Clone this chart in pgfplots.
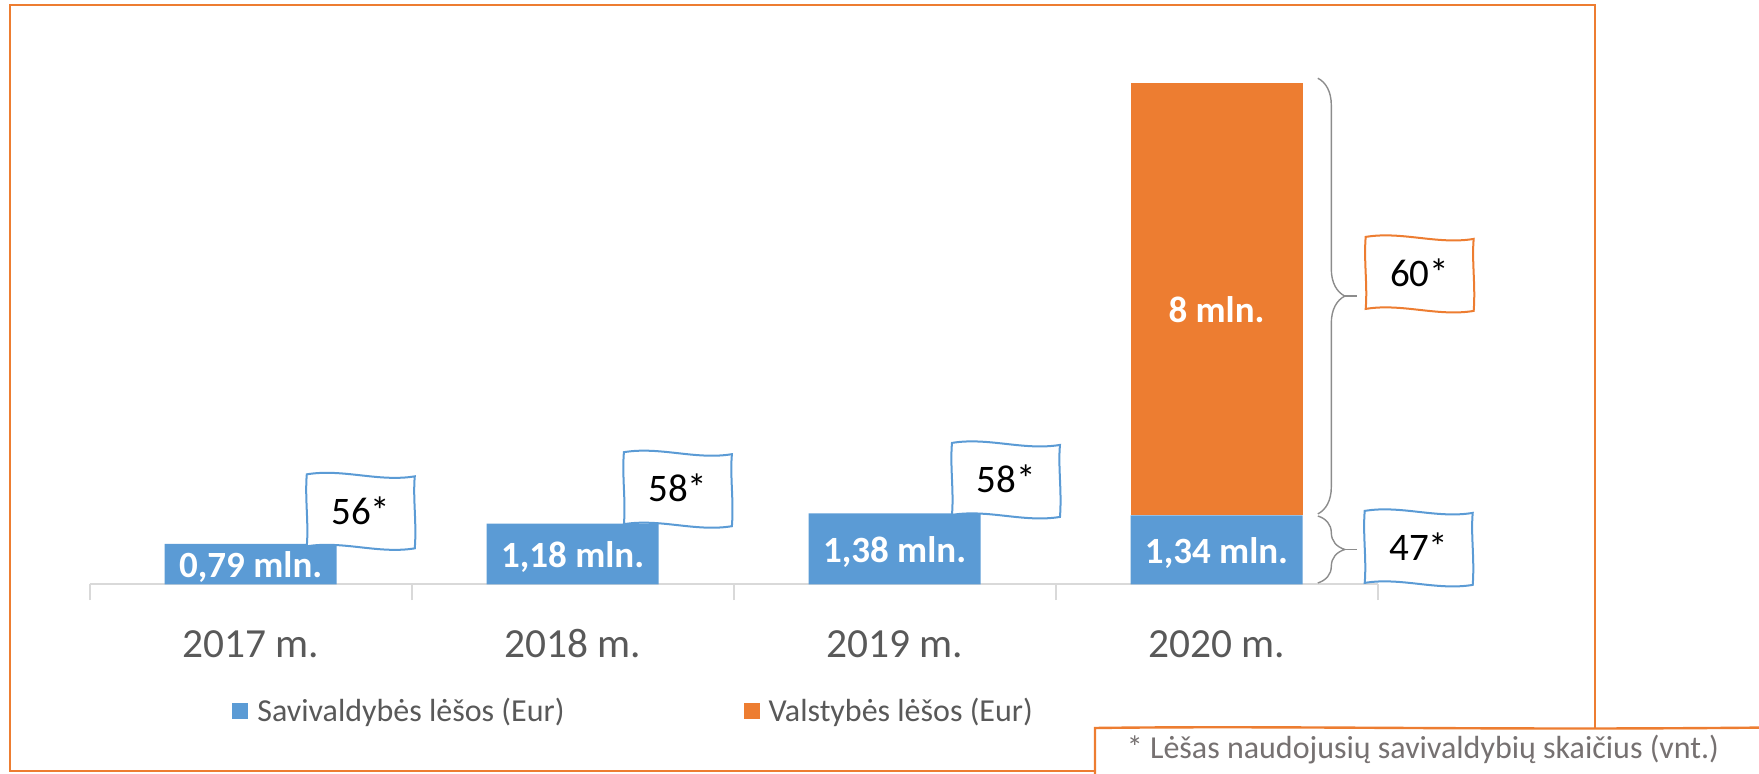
\documentclass[border=0pt]{standalone}
\usepackage{pgfplots}
\usepackage{pgfplotstable}
\pgfplotsset{compat=1.18}
\usepackage{fontspec}
\setmainfont{Carlito}
\usetikzlibrary{decorations.pathreplacing}
\definecolor{cblue}{HTML}{5B9BD5}
\definecolor{corange}{HTML}{ED7D31}
\definecolor{axgray}{HTML}{D9D9D9}
\definecolor{txtgray}{HTML}{595959}
\definecolor{brgray}{HTML}{8C8C8C}
\definecolor{fngray}{HTML}{767171}

\pgfplotstableread{
x y
0 0.79
1 1.18
2 1.38
3 1.34
}\bluedata
\pgfplotstableread{
x y
0 0
1 0
2 0
3 8.4
}\orangedata

\newcommand{\flag}[3]{%
  \draw[#2, line width=1pt, fill=white, shift={(#1)}]
      (-27pt,18pt) .. controls (-9pt,21pt) and (9pt,14pt) .. (27pt,17pt)
      .. controls (26pt,6pt) and (28pt,-6pt) .. (27pt,-19pt)
      .. controls (9pt,-22pt) and (-9pt,-15pt) .. (-27pt,-18pt)
      .. controls (-26pt,-6pt) and (-28pt,6pt) .. cycle;
  \node[font=\fontsize{19.5}{22}\selectfont, text=black] at (#1) {#3};}
\newcommand{\barlab}[2]{%
  \node[font=\bfseries\fontsize{18.5}{20}\selectfont, text=white, anchor=base, yshift=-6.6pt] at (#1) {#2};}

\begin{document}
\begin{tikzpicture}
\useasboundingbox (-44.85pt,-94.75pt) rectangle (834.65pt,292.25pt);
\draw[corange, line width=1pt] (-39.85pt,-93.1pt) rectangle (752.65pt,289.5pt);
\begin{axis}[
  at={(0,0)}, anchor=south west,
  scale only axis, width=643.9pt, height=257.5pt,
  ybar stacked, bar width=86pt,
  xmin=-0.5, xmax=3.5, ymin=0, ymax=10,
  enlargelimits=false,
  axis x line*=bottom, axis y line=none,
  axis line style={draw=axgray, line width=1pt, -},
  xtick={0,1,2,3},
  xticklabels={2017 m., 2018 m., 2019 m., 2020 m.},
  major tick length=0pt,
  xticklabel style={font=\fontsize{20.7}{24}\selectfont, text=txtgray, anchor=base, yshift=-36.75pt},
  extra x ticks={-0.5,0.5,1.5,2.5,3.5},
  extra x tick labels={},
  extra x tick style={major tick length=7.8pt, tick align=outside, tick style={draw=axgray, line width=1pt}},
  clip=false,
  legend columns=2,
  legend style={at={(0.1105,-0.2456)}, anchor=west, draw=none, fill=none, inner sep=0pt,
    font=\fontsize{16}{19}\selectfont, text=txtgray,
    /tikz/every even column/.append style={column sep=87.5pt}},
  legend image code/.code={\fill[#1, draw=none] (0pt,-4pt) rectangle (8pt,4pt); \path (10.5pt,0pt);},
]
\addplot[fill=cblue, draw=none] table[x=x, y=y] {\bluedata};
\addlegendentry{Savivaldybės lėšos (Eur)}
\addplot[fill=corange, draw=none] table[x=x, y=y] {\orangedata};
\addlegendentry{Valstybės lėšos (Eur)}

% label anchors (segment centres)
\coordinate (L1) at (axis cs:0,0.395);
\coordinate (L2) at (axis cs:1,0.59);
\coordinate (L3) at (axis cs:2,0.69);
\coordinate (L4) at (axis cs:3,0.67);
\coordinate (L5) at (axis cs:3,5.34);
% braces
\coordinate (BA) at (axis cs:3.3146,9.83);
\coordinate (BB) at (axis cs:3.3146,1.37);
\coordinate (BT) at (axis cs:3.3146,5.6);
\coordinate (BC) at (axis cs:3.3146,1.33);
\coordinate (BD) at (axis cs:3.3146,0.03);
\coordinate (BU) at (axis cs:3.3146,0.68);
% flags
\coordinate (F1) at (axis cs:0.342,1.44);
\coordinate (F2) at (axis cs:1.327,1.87);
\coordinate (F3) at (axis cs:2.346,2.05);
\coordinate (F4) at (axis cs:3.631,6.05);
\coordinate (F5) at (axis cs:3.628,0.73);
\end{axis}

\barlab{L1}{0,79 mln.}
\barlab{L2}{1,18 mln.}
\barlab{L3}{1,38 mln.}
\barlab{L4}{1,34 mln.}
\barlab{L5}{8 mln.}

\draw[brgray, line width=0.7pt, decorate, decoration={brace, amplitude=13.5pt}] (BA) -- (BB);
\draw[brgray, line width=0.7pt] (BT) ++(13.5pt,0pt) -- ++(6pt,0pt);
\draw[brgray, line width=0.7pt, decorate, decoration={brace, amplitude=13.5pt}] (BC) -- (BD);
\draw[brgray, line width=0.7pt] (BU) ++(13.5pt,0pt) -- ++(6pt,0pt);

\flag{F1}{cblue}{56*}
\flag{F2}{cblue}{58*}
\flag{F3}{cblue}{58*}
\flag{F4}{corange}{60*}
\flag{F5}{cblue}{47*}

\draw[corange, line width=1.2pt, fill=white] (502.65pt,-100pt) -- (502.65pt,-71.75pt)
  .. controls (600pt,-70.5pt) and (700pt,-73pt) .. (840pt,-71.5pt) -- (840pt,-100pt);
\node[font=\fontsize{16}{19}\selectfont, text=fngray] at (666.65pt,-82.45pt) {* Lėšas naudojusių savivaldybių skaičius (vnt.)};
\end{tikzpicture}
\end{document}
